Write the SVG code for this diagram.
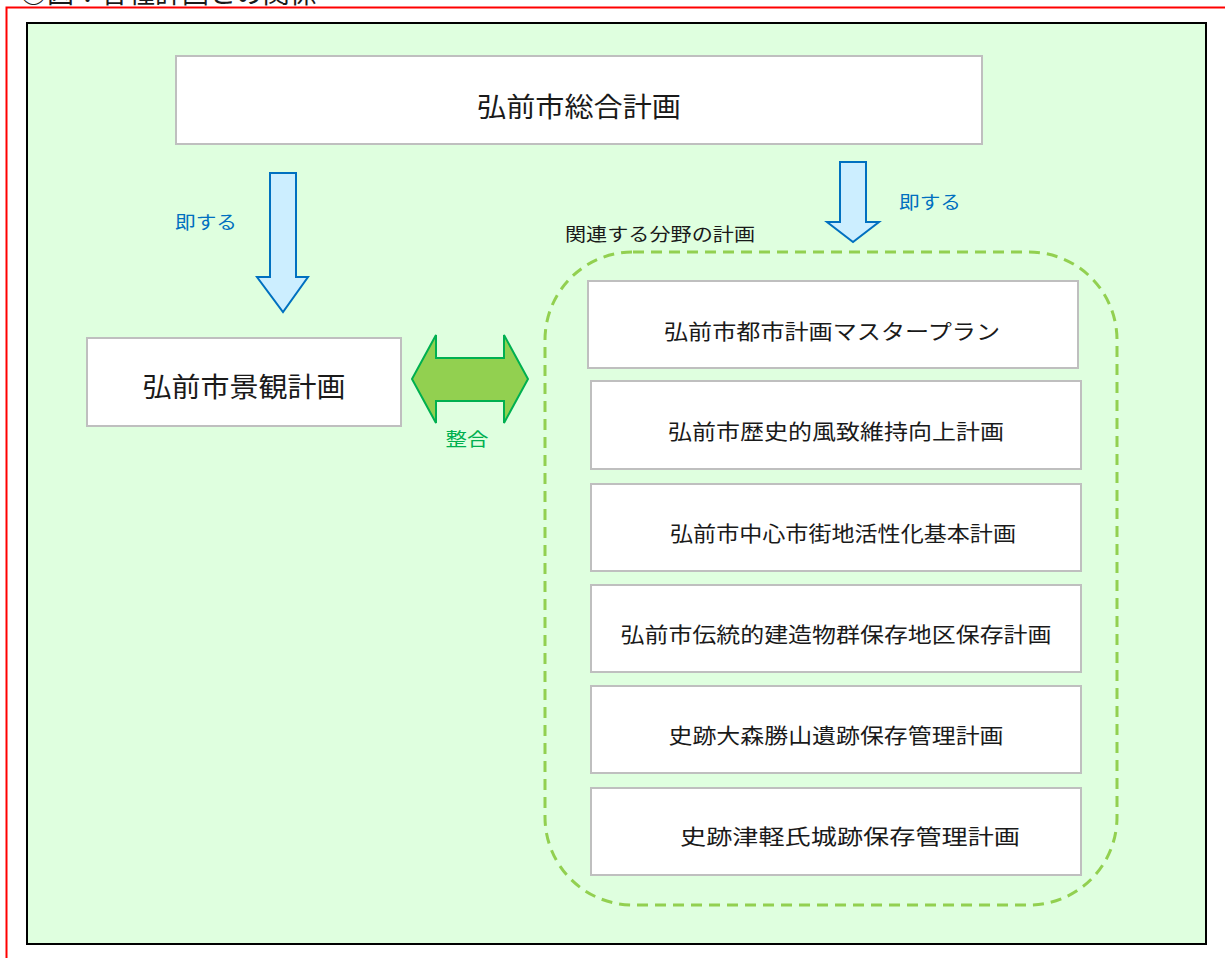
<svg xmlns="http://www.w3.org/2000/svg" width="1225" height="958" viewBox="0 0 1225 958">
<style>
.t{font-family:"Noto Sans CJK JP","Noto Sans CJK SC",sans-serif;fill:#1a1a1a;text-anchor:middle;dominant-baseline:central}
.box{fill:#ffffff;stroke:#bfbfbf;stroke-width:2}
.blue{fill:#cceeff;stroke:#0070c0;stroke-width:2}
.lb{font-family:"Noto Sans CJK JP",sans-serif;fill:#0070c0;font-size:18px;dominant-baseline:central}
</style>
<rect width="1225" height="958" fill="#ffffff"/>
<text x="20" y="3" style="font-family:'Noto Sans CJK JP',sans-serif;font-size:27px;fill:#1a1a1a">○図：各種計画との関係</text>
<path d="M6.5 958 V7.5 H1225" fill="none" stroke="#ff0000" stroke-width="2"/>
<rect x="28" y="24" width="1179" height="921" fill="#a6a6a6"/>
<rect x="27" y="23" width="1179" height="921" fill="#dfffdf" stroke="#000" stroke-width="2"/>

<g id="n-sogo">
<rect class="box" x="176" y="56" width="806" height="88"/>
<text class="t" x="579" y="105" font-size="27" textLength="204" lengthAdjust="spacingAndGlyphs">弘前市総合計画</text>
</g>
<g id="n-keikan">
<rect class="box" x="87" y="338" width="314" height="88"/>
<text class="t" x="244" y="385" font-size="27" textLength="203" lengthAdjust="spacingAndGlyphs">弘前市景観計画</text>
</g>
<g id="n-group">
<rect x="545" y="252" width="572" height="653" rx="88" ry="88" fill="none" stroke="#92d050" stroke-width="3" stroke-dasharray="11 7"/>
<text x="565" y="233" style="font-family:'Noto Sans CJK JP',sans-serif;font-size:18px;fill:#1a1a1a;dominant-baseline:central" textLength="190" lengthAdjust="spacingAndGlyphs">関連する分野の計画</text>
</g>
<g id="n-toshi">
<rect class="box" x="588" y="281" width="490" height="87"/>
<text class="t" x="832" y="330" font-size="21" textLength="336" lengthAdjust="spacingAndGlyphs">弘前市都市計画マスタープラン</text>
</g>
<g id="n-rekishi">
<rect class="box" x="591" y="381" width="490" height="88"/>
<text class="t" x="836" y="430" font-size="21" textLength="336" lengthAdjust="spacingAndGlyphs">弘前市歴史的風致維持向上計画</text>
</g>
<g id="n-chushin">
<rect class="box" x="591" y="484" width="490" height="87"/>
<text class="t" x="843" y="532" font-size="21" textLength="346" lengthAdjust="spacingAndGlyphs">弘前市中心市街地活性化基本計画</text>
</g>
<g id="n-dento">
<rect class="box" x="591" y="585" width="490" height="87"/>
<text class="t" x="836" y="633" font-size="21" textLength="431" lengthAdjust="spacingAndGlyphs">弘前市伝統的建造物群保存地区保存計画</text>
</g>
<g id="n-omori">
<rect class="box" x="591" y="686" width="490" height="87"/>
<text class="t" x="836" y="734" font-size="21" textLength="335" lengthAdjust="spacingAndGlyphs">史跡大森勝山遺跡保存管理計画</text>
</g>
<g id="n-tsugaru">
<rect class="box" x="591" y="788" width="490" height="87"/>
<text class="t" x="850" y="835" font-size="21" textLength="340" lengthAdjust="spacingAndGlyphs">史跡津軽氏城跡保存管理計画</text>
</g>

<g id="connectors">
<path class="blue" d="M270 173 H296 V277 H308 L283 312 L257 277 H270 Z"/>
<text class="lb" x="175" y="221" textLength="62" lengthAdjust="spacingAndGlyphs">即する</text>
<path class="blue" d="M840 162 H866 V222 H879 L853 242 L827 222 H840 Z"/>
<text class="lb" x="899" y="201" textLength="62" lengthAdjust="spacingAndGlyphs">即する</text>
<path d="M412 379 L436 335 V358 H504 V335 L528 379 L504 423 V401 H436 V423 Z" fill="#92d050" stroke="#00b050" stroke-width="2"/>
<text x="467" y="438" style="font-family:'Noto Sans CJK JP',sans-serif;font-size:18px;fill:#00b050;text-anchor:middle;dominant-baseline:central" textLength="43" lengthAdjust="spacingAndGlyphs">整合</text>
</g>
</svg>
